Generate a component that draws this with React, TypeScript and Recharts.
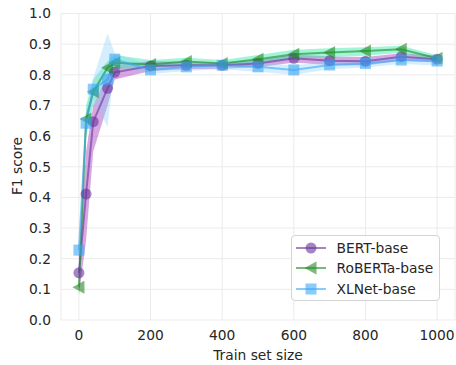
import React from 'react';
import { ComposedChart, Line, Area, XAxis, YAxis, CartesianGrid, Label } from 'recharts';

const trainSizes = [0, 20, 40, 80, 100, 200, 300, 400, 500, 600, 700, 800, 900, 1000];

const bertMean = [0.154, 0.411, 0.647, 0.756, 0.808, 0.829, 0.831, 0.831, 0.837, 0.854, 0.846, 0.844, 0.859, 0.851];
const bertLow = [0.08, 0.26, 0.55, 0.7, 0.785, 0.812, 0.818, 0.82, 0.825, 0.84, 0.832, 0.83, 0.846, 0.84];
const bertHigh = [0.22, 0.55, 0.7, 0.8, 0.83, 0.845, 0.842, 0.84, 0.848, 0.866, 0.86, 0.858, 0.87, 0.862];

const robertaMean = [0.107, 0.656, 0.745, 0.823, 0.839, 0.834, 0.843, 0.837, 0.851, 0.867, 0.873, 0.878, 0.883, 0.854];
const robertaLow = [0.09, 0.6, 0.7, 0.8, 0.82, 0.822, 0.83, 0.826, 0.838, 0.852, 0.858, 0.862, 0.872, 0.843];
const robertaHigh = [0.13, 0.7, 0.785, 0.845, 0.865, 0.848, 0.856, 0.848, 0.865, 0.882, 0.887, 0.89, 0.895, 0.864];

const xlnetMean = [0.228, 0.642, 0.753, 0.785, 0.851, 0.816, 0.826, 0.831, 0.826, 0.816, 0.832, 0.837, 0.848, 0.845];
const xlnetLow = [0.2, 0.6, 0.72, 0.63, 0.83, 0.803, 0.812, 0.818, 0.81, 0.8, 0.818, 0.824, 0.835, 0.83];
const xlnetHigh = [0.25, 0.68, 0.79, 0.935, 0.87, 0.83, 0.84, 0.842, 0.84, 0.83, 0.846, 0.85, 0.86, 0.858];

const xTicks = [0, 200, 400, 600, 800, 1000];
const yTicks = [0, 0.1, 0.2, 0.3, 0.4, 0.5, 0.6, 0.7, 0.8, 0.9, 1.0];

const seriesNames = ['BERT-base', 'RoBERTa-base', 'XLNet-base'];

const data = trainSizes.map((x, i) => ({
  x,
  bert: bertMean[i],
  bertBand: [bertLow[i], bertHigh[i]],
  roberta: robertaMean[i],
  robertaBand: [robertaLow[i], robertaHigh[i]],
  xlnet: xlnetMean[i],
  xlnetBand: [xlnetLow[i], xlnetHigh[i]],
}));

const FONT = '"DejaVu Sans", sans-serif';
const FS = 13.8;

const C_BERT = '#663399';
const C_ROB = '#228b22';
const C_XL = '#3aa8f5';
const LINE_OP = 0.6;

const circleDot = (color: string) => (p: any) => {
  if (p.cx == null || p.cy == null) return <g key={p.index} />;
  return <circle key={p.index} cx={p.cx} cy={p.cy} r={5.5} fill={color} fillOpacity={LINE_OP} />;
};
const triDot = (color: string) => (p: any) => {
  if (p.cx == null || p.cy == null) return <g key={p.index} />;
  const { cx, cy } = p;
  return (
    <polygon
      key={p.index}
      points={`${cx - 6.5},${cy} ${cx + 5.5},${cy - 6.5} ${cx + 5.5},${cy + 6.5}`}
      fill={color}
      fillOpacity={LINE_OP}
    />
  );
};
const squareDot = (color: string) => (p: any) => {
  if (p.cx == null || p.cy == null) return <g key={p.index} />;
  return <rect key={p.index} x={p.cx - 5.5} y={p.cy - 5.5} width={11} height={11} fill={color} fillOpacity={LINE_OP} />;
};

const legendIcon = (i: number) => {
  const colors = [C_BERT, C_ROB, C_XL];
  const c = colors[i];
  let marker;
  if (i === 0) marker = <circle cx={15} cy={6} r={5.5} fill={c} fillOpacity={LINE_OP} />;
  else if (i === 1) marker = <polygon points={`${8.5},6 ${20.5},-0.5 ${20.5},12.5`} fill={c} fillOpacity={LINE_OP} />;
  else marker = <rect x={9.5} y={0.5} width={11} height={11} fill={c} fillOpacity={LINE_OP} />;
  return (
    <svg width={30} height={12} style={{ position: 'absolute', left: 4, top: 0, overflow: 'visible' }}>
      <line x1={0} y1={6} x2={30} y2={6} stroke={c} strokeOpacity={LINE_OP} strokeWidth={2} />
      {marker}
    </svg>
  );
};

const LegendBox = () => (
  <div
    style={{
      position: 'absolute',
      left: 290.5,
      top: 235,
      width: 149,
      height: 66,
      border: '1px solid #d5d5d5',
      borderRadius: 4,
      background: 'rgba(255,255,255,0.8)',
      boxSizing: 'border-box',
      fontFamily: FONT,
      fontSize: FS,
      color: '#262626',
    }}
  >
    {seriesNames.map((name, i) => (
      <div key={name} style={{ position: 'absolute', left: 0, top: 5.5 + i * 20.5, height: 12, width: 148 }}>
        {legendIcon(i)}
        <span style={{ position: 'absolute', left: 45, top: -3, lineHeight: '18px', whiteSpace: 'nowrap' }}>{name}</span>
      </div>
    ))}
  </div>
);

export default function App() {
  return (
    <div style={{ position: 'absolute', left: 0, top: 0, width: 456, height: 365, background: '#fff' }}>
      <ComposedChart width={456} height={365} data={data} margin={{ top: 13.5, right: 1, bottom: 0, left: 0 }}>
        <CartesianGrid stroke="#ebebeb" strokeWidth={1} />
        <XAxis
          dataKey="x"
          type="number"
          domain={[-50, 1050]}
          ticks={xTicks}
          axisLine={false}
          tickLine={false}
          tickSize={6}
          tickMargin={4}
          height={45}
          tick={{ fontFamily: FONT, fontSize: FS, fill: '#262626' }}
        >
          <Label
            content={() => (
              <text x={61 + 394 / 2} y={359.5} textAnchor="middle" fontFamily={FONT} fontSize={FS} fill="#262626">
                Train set size
              </text>
            )}
          />
        </XAxis>
        <YAxis
          type="number"
          domain={[0, 1]}
          ticks={yTicks}
          axisLine={false}
          tickLine={false}
          tickSize={6}
          tickMargin={4}
          width={61}
          tickFormatter={(v: number) => v.toFixed(1)}
          tick={{ fontFamily: FONT, fontSize: FS, fill: '#262626' }}
        >
          <Label
            content={() => (
              <text
                x={17}
                y={166}
                transform="rotate(-90, 17, 166)"
                textAnchor="middle"
                dominantBaseline="central"
                fontFamily={FONT}
                fontSize={FS}
                fill="#262626"
              >
                F1 score
              </text>
            )}
          />
        </YAxis>
        <Area dataKey="bertBand" type="linear" stroke="none" fill="#b04fc4" fillOpacity={0.5} isAnimationActive={false} activeDot={false} />
        <Area dataKey="robertaBand" type="linear" stroke="none" fill="#2ee8a8" fillOpacity={0.45} isAnimationActive={false} activeDot={false} />
        <Area dataKey="xlnetBand" type="linear" stroke="none" fill="#87cefa" fillOpacity={0.35} isAnimationActive={false} activeDot={false} />
        <Line dataKey="bert" type="linear" stroke={C_BERT} strokeOpacity={LINE_OP} strokeWidth={2} dot={circleDot(C_BERT)} activeDot={false} isAnimationActive={false} />
        <Line dataKey="roberta" type="linear" stroke={C_ROB} strokeOpacity={LINE_OP} strokeWidth={2} dot={triDot(C_ROB)} activeDot={false} isAnimationActive={false} />
        <Line dataKey="xlnet" type="linear" stroke={C_XL} strokeOpacity={LINE_OP} strokeWidth={2} dot={squareDot(C_XL)} activeDot={false} isAnimationActive={false} />
      </ComposedChart>
      <LegendBox />
    </div>
  );
}
